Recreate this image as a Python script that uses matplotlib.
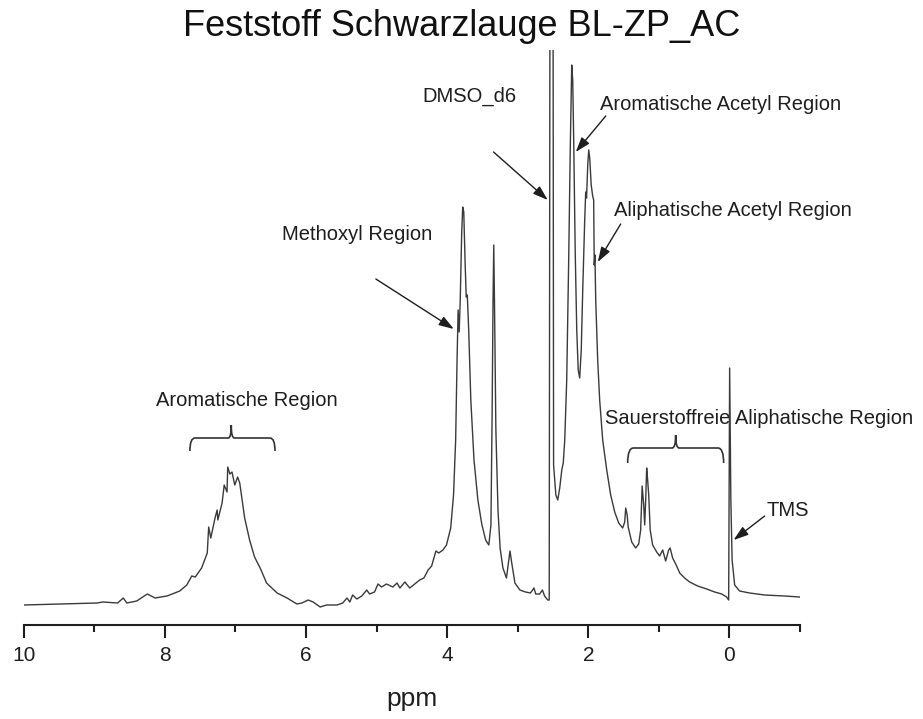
import matplotlib
matplotlib.use("Agg")
import matplotlib.pyplot as plt
from matplotlib.path import Path
from matplotlib.patches import PathPatch
import numpy as np

plt.rcParams['font.family'] = ['Liberation Sans', 'DejaVu Sans']

# ---- spectrum (ppm, intensity in arbitrary units) ----
ppm = [10.00, 9.49, 8.96, 8.88, 8.67, 8.59, 8.54, 8.40, 8.25, 8.14, 7.97, 7.79, 7.69, 7.62,
       7.57, 7.48, 7.40, 7.38, 7.35, 7.29, 7.26, 7.25, 7.19, 7.16, 7.12, 7.11, 7.08, 7.05,
       7.01, 6.97, 6.94, 6.87, 6.80, 6.73, 6.65, 6.56, 6.41, 6.27, 6.13, 6.06, 5.97, 5.90,
       5.80, 5.71, 5.56, 5.48, 5.42, 5.38, 5.34, 5.28, 5.21, 5.14, 5.10, 5.03, 4.98, 4.93,
       4.86, 4.77, 4.71, 4.67, 4.60, 4.53, 4.46, 4.39, 4.33, 4.27, 4.22, 4.16, 4.12, 4.06,
       4.01, 3.95, 3.91, 3.88, 3.86, 3.845, 3.83, 3.815, 3.795, 3.78, 3.765, 3.745, 3.73,
       3.715, 3.695, 3.665, 3.62, 3.565, 3.51, 3.455, 3.41, 3.38, 3.364, 3.35, 3.34, 3.33,
       3.31, 3.28, 3.25, 3.21, 3.16, 3.13, 3.11, 3.085, 3.04, 2.97, 2.89, 2.82, 2.77, 2.745,
       2.69, 2.65, 2.62, 2.575, 2.554, 2.539, 2.504, 2.492, 2.46, 2.433, 2.405, 2.376,
       2.355, 2.334, 2.306, 2.278, 2.256, 2.235, 2.221, 2.207, 2.186, 2.164, 2.143, 2.122,
       2.10, 2.079, 2.051, 2.037, 2.025, 2.008, 1.994, 1.98, 1.959, 1.938, 1.924, 1.916,
       1.906, 1.895, 1.867, 1.839, 1.796, 1.739, 1.683, 1.626, 1.569, 1.513, 1.484, 1.470,
       1.449, 1.435, 1.385, 1.329, 1.286, 1.258, 1.237, 1.215, 1.201, 1.187, 1.173, 1.159,
       1.144, 1.123, 1.088, 1.031, 0.989, 0.946, 0.904, 0.861, 0.840, 0.805, 0.748, 0.705,
       0.635, 0.564, 0.45, 0.323, 0.21, 0.11, 0.04, 0.011, -0.003, -0.02, -0.038, -0.074,
       -0.144, -0.286, -0.499, -0.782, -0.994]
intensity = [20, 21, 22, 23, 22, 27, 22, 24, 31, 27, 29, 34, 40, 49,
             48, 57, 72, 98, 87, 107, 115, 105, 122, 140, 133, 158, 151, 153,
             140, 148, 142, 107, 85, 68, 57, 42, 32, 27, 21, 22, 25, 23,
             18, 20, 20, 22, 27, 23, 30, 26, 29, 35, 31, 33, 41, 38,
             41, 38, 42, 37, 43, 37, 41, 45, 47, 55, 59, 74, 72, 75,
             80, 97, 130, 185, 265, 315, 293, 325, 390, 418, 413, 360, 328,
             330, 295, 225, 165, 125, 101, 85, 80, 100, 205, 325, 380, 325,
             195, 115, 77, 57, 47, 63, 74, 62, 42, 35, 33, 32, 37, 31,
             31, 35, 29, 25, 25, 900, 900, 160, 130, 125, 137, 155,
             162, 185, 245, 365, 475, 560, 545, 485, 375, 295, 255, 247,
             275, 335, 405, 433, 427, 460, 475, 467, 440, 429, 425, 360,
             370, 325, 265, 225, 185, 155, 130, 113, 102, 97, 103, 117,
             110, 98, 83, 77, 81, 95, 139, 120, 100, 125, 157, 145,
             130, 95, 80, 73, 69, 75, 64, 75, 77, 67, 59, 52,
             47, 43, 39, 36, 33, 31, 28, 25, 257, 125, 65, 40,
             34, 32, 30, 29, 28]

major_ticks = [10, 8, 6, 4, 2, 0]
minor_ticks = [9, 7, 5, 3, 1, -1]

title = "Feststoff Schwarzlauge BL-ZP_AC"
xlabel = "ppm"

# labels: (text, ppm, intensity)
labels = [("Methoxyl Region", 5.276, 391),
          ("Aromatische Region", 6.835, 224),
          ("DMSO_d6", 3.680, 529),
          ("Aromatische Acetyl Region", 0.125, 520),
          ("Aliphatische Acetyl Region", -0.045, 415),
          ("Sauerstoffreie Aliphatische Region", -0.422, 207),
          ("TMS", -0.833, 115)]

# arrows: (tail ppm, tail int, tip ppm, tip int)
arrows = [(5.011, 346, 3.906, 296),
          (3.343, 473, 2.575, 425),
          (1.753, 509, 2.178, 473),
          (1.541, 401, 1.866, 363),
          (-0.499, 109, -0.059, 85)]

# braces: (left ppm, right ppm, tip ppm, bottom, middle, top intensity)
braces = [(7.646, 6.44, 7.06, 174, 187, 200),
          (1.442, 0.082, 0.762, 162, 177, 190)]

ink = "#1e1e1e"

fig = plt.figure(figsize=(9.23, 7.19), dpi=100)
ax = fig.add_axes([23.8 / 923, (719 - 625) / 719, (800 - 23.8) / 923, (625 - 50) / 719])

ax.plot(ppm, intensity, color="#3a3a3a", lw=1.0, zorder=4)
ax.set_xlim(10, -1)
ax.set_ylim(0, 575)

for s in ("top", "left", "right"):
    ax.spines[s].set_visible(False)
ax.spines["bottom"].set_linewidth(1.5)
ax.spines["bottom"].set_color(ink)
ax.set_yticks([])
ax.set_xticks(major_ticks)
ax.set_xticklabels([str(t) for t in major_ticks])
ax.set_xticks(minor_ticks, minor=True)
ax.tick_params(axis="x", which="major", direction="out", length=9, width=1.5,
               color=ink, labelsize=15, labelcolor=ink, pad=6)
ax.tick_params(axis="x", which="minor", direction="out", length=5, width=1.5, color=ink)
ax.set_xlabel(xlabel, fontsize=19, color=ink, labelpad=16)

fig.text(0.5, 1 - 27 / 719, title, ha="center", va="center", fontsize=26, color="#111111")

for txt, x, y in labels:
    ax.text(x, y, txt, ha="center", va="center", fontsize=14.5, color=ink, zorder=3)

for x0, y0, x1, y1 in arrows:
    ax.annotate("", xy=(x1, y1), xytext=(x0, y0),
                arrowprops=dict(arrowstyle="-|>,head_length=0.9,head_width=0.3",
                                lw=1.0, color=ink, shrinkA=0, shrinkB=0))

for xl, xr, xt, yb, ym, yt in braces:
    dx = (xl - xr) * 0.06
    verts = [(xl, yb), (xl, ym), (xl - dx, ym),
             (xt + dx * 0.6, ym), (xt, ym), (xt, yt),
             (xt, ym), (xt - dx * 0.6, ym),
             (xr + dx, ym), (xr, ym), (xr, yb)]
    codes = [Path.MOVETO, Path.CURVE3, Path.CURVE3,
             Path.LINETO, Path.CURVE3, Path.CURVE3,
             Path.CURVE3, Path.CURVE3,
             Path.LINETO, Path.CURVE3, Path.CURVE3]
    ax.add_patch(PathPatch(Path(verts, codes), fill=False, lw=1.2, edgecolor="#333333",
                           clip_on=False))

fig.savefig("out.png", dpi=100, facecolor="white")
